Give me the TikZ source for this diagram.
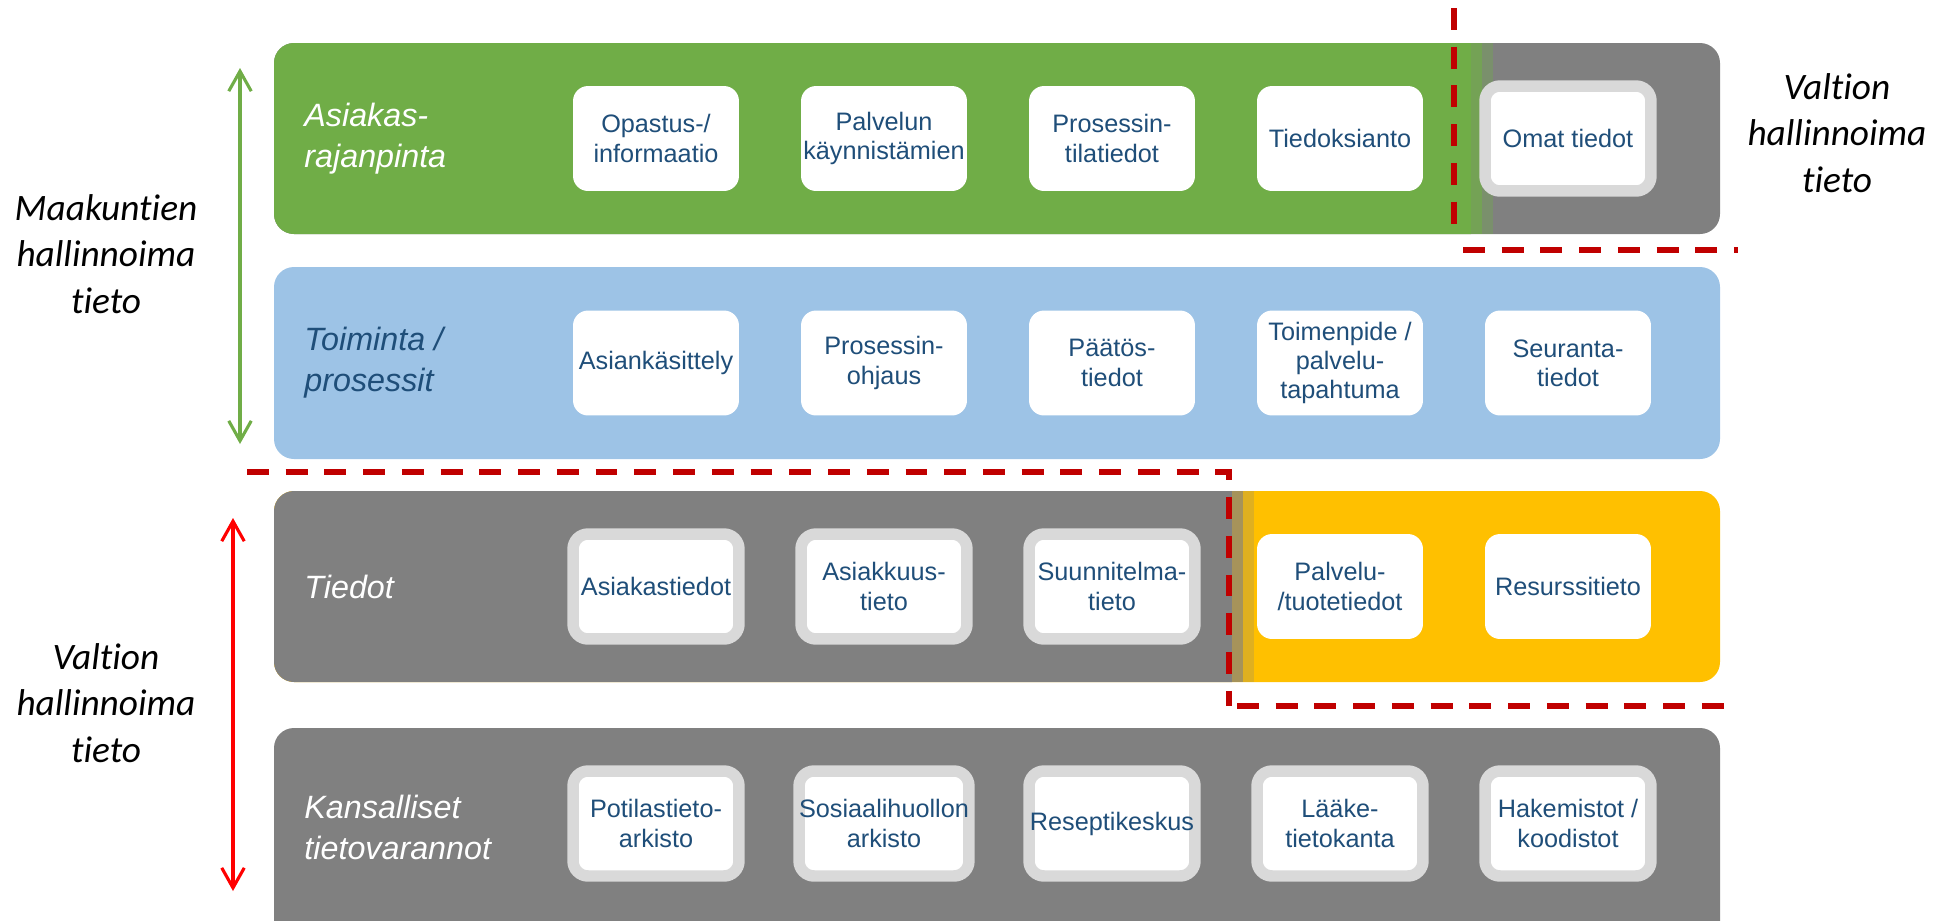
\documentclass[tikz,border=0pt]{standalone}
\usepackage{fontspec}
\setmainfont{Liberation Sans}
\newfontfamily\sidefont[Ligatures=NoCommon]{Carlito}
\usetikzlibrary{arrows.meta}
\definecolor{bandgreen}{HTML}{70AD47}
\definecolor{bandblue}{HTML}{9DC3E6}
\definecolor{bandgray}{HTML}{808080}
\definecolor{bandyellow}{HTML}{FFC000}
\definecolor{boxrim}{HTML}{D9D9D9}
\definecolor{boxtext}{HTML}{1F4E79}
\definecolor{cutred}{HTML}{C00000}
\definecolor{arrowred}{HTML}{FF0000}
\begin{document}
\begin{tikzpicture}[x=0.016cm, y=-0.016cm,
    cell/.style={fill=white, rounded corners=0.24cm, minimum width=2.656cm, minimum height=1.68cm,
      inner sep=0pt, align=center, text=boxtext, font=\fontsize{11.5}{13.3}\selectfont},
    rimcell/.style={cell, draw=boxrim, line width=0.184cm},
    bandlabel/.style={anchor=west, align=left, inner sep=0pt, text=white, font=\fontsize{14.7}{18.7}\selectfont\itshape},
    sidelabel/.style={align=center, font=\sidefont\fontsize{17}{21.2}\selectfont\itshape},
    cutline/.style={cutred, line width=0.086cm, dash pattern=on 0.35cm off 0.27cm},
    band/.style={rounded corners=0.32cm},
    >={Straight Barb[length=0.32cm, width=0.36cm]}]
  \useasboundingbox (0,0) rectangle (1933,920);

  \fill[band, bandgray] (274,43) rectangle (1720,234);
  \begin{scope}
    \clip (274,43) rectangle (1471,234);
    \fill[band, bandgreen] (274,43) rectangle (1720,234);
  \end{scope}
  \fill[bandgreen!75!bandgray] (1471,43) rectangle (1482,234);
  \fill[bandgreen!35!bandgray] (1482,43) rectangle (1493,234);

  \fill[band, bandblue] (274,267) rectangle (1720,459);

  \fill[band, bandyellow] (274,491) rectangle (1720,682);
  \begin{scope}
    \clip (274,491) rectangle (1232,682);
    \fill[band, bandgray] (274,491) rectangle (1720,682);
  \end{scope}
  \fill[bandyellow!30!bandgray] (1232,491) rectangle (1243,682);
  \fill[bandyellow!75!bandgray] (1243,491) rectangle (1254,682);

  \fill[band, bandgray] (274,728) rectangle (1720,960);

  \node[bandlabel] (asiakas) at (304,138.5) {Asiakas-\\rajanpinta};
  \node[bandlabel, text=boxtext] (toiminta) at (304,363) {Toiminta /\\prosessit};
  \node[bandlabel] (tiedot) at (304,586.5) {Tiedot};
  \node[bandlabel] (kansall) at (304,827) {Kansalliset\\tietovarannot};

  \node[cell] (a1) at (656,138.5) {Opastus-/\\informaatio};
  \node[cell] (a2) at (884,138.5) {Palvelun\\käynnistämien};
  \node[cell] (a3) at (1112,138.5) {Prosessin-\\tilatiedot};
  \node[cell] (a4) at (1340,138.5) {Tiedoksianto};
  \node[rimcell] (a5) at (1568,138.5) {Omat tiedot};

  \node[cell] (t1) at (656,363) {Asiankäsittely};
  \node[cell] (t2) at (884,363) {Prosessin-\\ohjaus};
  \node[cell] (t3) at (1112,363) {Päätös-\\tiedot};
  \node[cell] (t4) at (1340,363) {Toimenpide /\\palvelu-\\tapahtuma};
  \node[cell] (t5) at (1568,363) {Seuranta-\\tiedot};

  \node[rimcell] (d1) at (656,586.5) {Asiakastiedot};
  \node[rimcell] (d2) at (884,586.5) {Asiakkuus-\\tieto};
  \node[rimcell] (d3) at (1112,586.5) {Suunnitelma-\\tieto};
  \node[cell] (d4) at (1340,586.5) {Palvelu-\\/tuotetiedot};
  \node[cell] (d5) at (1568,586.5) {Resurssitieto};

  \node[rimcell] (k1) at (656,823.5) {Potilastieto-\\arkisto};
  \node[rimcell] (k2) at (884,823.5) {Sosiaalihuollon\\arkisto};
  \node[rimcell] (k3) at (1112,823.5) {Reseptikeskus};
  \node[rimcell] (k4) at (1340,823.5) {Lääke-\\tietokanta};
  \node[rimcell] (k5) at (1568,823.5) {Hakemistot /\\koodistot};

  \node[sidelabel] (maakunnat) at (106,254) {Maakuntien\\hallinnoima\\tieto};
  \node[sidelabel] (valtio) at (106,703) {Valtion\\hallinnoima\\tieto};
  \node[sidelabel] (valtio2) at (1837,133) {Valtion\\hallinnoima\\tieto};

  \coordinate (gtop) at (240,68);
  \coordinate (gbot) at (240,444);
  \coordinate (rtop) at (233,518);
  \coordinate (rbot) at (233,891);
  \draw[<->, bandgreen, line width=0.05cm] (gtop) -- (gbot);
  \draw[<->, arrowred, line width=0.05cm] (rtop) -- (rbot);

  \draw[cutline] (1454,8) -- (1454,238);
  \draw[cutline] (1463,250) -- (1738,250);
  \draw[cutline] (247,472) -- (1229,472) -- (1229,706);
  \draw[cutline] (1237,706) -- (1738,706);
\end{tikzpicture}
\end{document}
